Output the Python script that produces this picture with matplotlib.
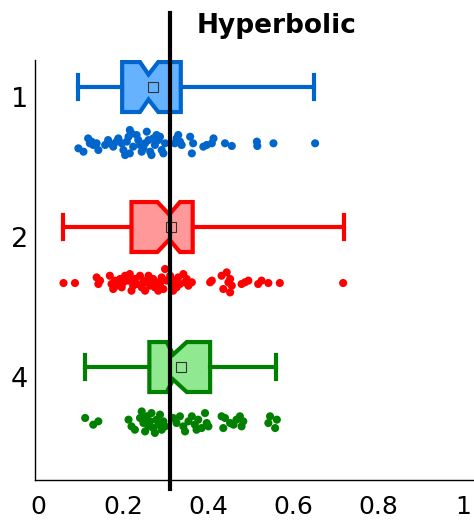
import matplotlib
matplotlib.use("Agg")
import matplotlib.pyplot as plt

# ---------------- data ----------------
categories = ["1", "2", "4"]
title_text = "Hyperbolic"
ref_line_x = 0.311
xticks = [0, 0.2, 0.4, 0.6, 0.8, 1]
xtick_labels = ["0", "0.2", "0.4", "0.6", "0.8", "1"]

# box statistics
whislo = [0.095, 0.060, 0.110]
q1 = [0.198, 0.220, 0.262]
med = [0.260, 0.309, 0.318]
q3 = [0.336, 0.364, 0.405]
whishi = [0.649, 0.720, 0.560]
means = [0.270, 0.312, 0.336]
cilo = [0.240, 0.281, 0.303]
cihi = [0.283, 0.334, 0.350]

# individual points (values and vertical jitter)
vals1 = [0.095, 0.107, 0.118, 0.126, 0.122, 0.130, 0.138, 0.142, 0.158, 0.165,
         0.169, 0.177, 0.185, 0.189, 0.197, 0.201, 0.209, 0.213, 0.216, 0.220,
         0.224, 0.205, 0.216, 0.232, 0.236, 0.240, 0.248, 0.244, 0.256, 0.260,
         0.264, 0.267, 0.252, 0.271, 0.275, 0.279, 0.283, 0.287, 0.291, 0.295,
         0.299, 0.322, 0.326, 0.330, 0.334, 0.338, 0.358, 0.362, 0.365, 0.389,
         0.397, 0.409, 0.413, 0.440, 0.456, 0.515, 0.516, 0.554, 0.652]
jit1 = [0.038, 0.062, -0.033, -0.010, 0.002, 0.014, 0.002, 0.050, 0.014, -0.021,
        0.002, 0.026, -0.010, -0.033, 0.002, 0.050, -0.010, -0.045, -0.093, -0.069,
        0.026, 0.086, 0.074, -0.057, -0.021, 0.014, 0.038, 0.062, -0.081, -0.021,
        0.062, 0.086, 0.002, -0.033, 0.014, -0.057, -0.021, -0.045, 0.050, 0.074,
        0.002, 0.002, -0.033, -0.057, -0.010, 0.014, -0.045, 0.074, 0.002, 0.026,
        0.014, 0.002, -0.033, 0.002, 0.021, -0.010, 0.021, 0.002, 0.002]

vals2 = [0.060, 0.087, 0.138, 0.142, 0.146, 0.169, 0.173, 0.177, 0.181, 0.185,
         0.193, 0.197, 0.201, 0.205, 0.213, 0.216, 0.220, 0.224, 0.228, 0.232,
         0.240, 0.244, 0.248, 0.252, 0.256, 0.260, 0.264, 0.271, 0.275, 0.279,
         0.283, 0.287, 0.291, 0.295, 0.299, 0.303, 0.311, 0.315, 0.318, 0.322,
         0.326, 0.330, 0.334, 0.342, 0.346, 0.350, 0.354, 0.362, 0.405, 0.409,
         0.432, 0.436, 0.444, 0.448, 0.452, 0.456, 0.452, 0.479, 0.487, 0.495,
         0.518, 0.526, 0.542, 0.569, 0.718]
jit2 = [0.000, 0.000, -0.040, 0.007, -0.017, -0.052, 0.007, 0.043, -0.017, 0.019,
        -0.029, 0.031, -0.005, -0.052, -0.017, -0.064, 0.055, 0.019, -0.029, 0.007,
        -0.052, 0.031, -0.017, 0.055, -0.005, -0.052, 0.019, -0.029, 0.031, -0.005,
        0.055, 0.007, -0.040, 0.043, -0.100, -0.017, -0.052, 0.019, 0.055, -0.017,
        0.031, -0.040, 0.007, -0.064, -0.005, -0.029, 0.019, -0.005, -0.005, -0.017,
        -0.052, 0.043, -0.076, -0.005, -0.029, 0.019, 0.067, 0.007, -0.005, -0.017,
        0.007, -0.017, 0.000, 0.000, 0.000]

vals3 = [0.111, 0.130, 0.142, 0.213, 0.220, 0.228, 0.240, 0.244, 0.248, 0.252,
         0.256, 0.260, 0.264, 0.267, 0.271, 0.275, 0.279, 0.283, 0.287, 0.291,
         0.295, 0.299, 0.318, 0.326, 0.334, 0.342, 0.346, 0.354, 0.362, 0.369,
         0.373, 0.377, 0.385, 0.393, 0.397, 0.401, 0.432, 0.436, 0.440, 0.452,
         0.460, 0.467, 0.475, 0.479, 0.483, 0.542, 0.546, 0.558, 0.562]
jit3 = [-0.036, 0.012, -0.012, -0.024, 0.024, 0.048, -0.036, -0.083, 0.000, 0.060,
        -0.048, 0.024, -0.012, -0.071, 0.036, 0.071, -0.024, 0.012, -0.060, 0.048,
        -0.012, 0.024, -0.036, 0.000, -0.048, 0.024, 0.060, -0.012, -0.048, 0.012,
        0.048, -0.024, 0.036, -0.071, 0.000, 0.024, -0.048, 0.036, -0.036, 0.000,
        0.012, -0.024, -0.048, 0.024, -0.012, 0.000, -0.048, 0.036, -0.024]

edge_colors = ["#0066CC", "#FF0000", "#008000"]
fill_colors = ["#66B2FF", "#FF9999", "#90E890"]

# ---------------- figure ----------------
fig = plt.figure(figsize=(4.74, 5.21), dpi=100)
ax = fig.add_axes([35 / 474, 41 / 521, 439 / 474, 420 / 521])

positions = [0, 1, 2]
point_offset = 0.40

stats = []
for i in range(3):
    stats.append(dict(label=categories[i], whislo=whislo[i], q1=q1[i], med=med[i],
                      q3=q3[i], whishi=whishi[i], mean=means[i],
                      cilo=cilo[i], cihi=cihi[i], fliers=[]))

for i in range(3):
    ax.bxp([stats[i]], positions=[positions[i]], widths=0.357,
           orientation="horizontal", shownotches=True, showmeans=True,
           patch_artist=True, showfliers=False,
           boxprops=dict(facecolor=fill_colors[i], edgecolor=edge_colors[i],
                         linewidth=3.0),
           whiskerprops=dict(color=edge_colors[i], linewidth=3.0),
           capprops=dict(color=edge_colors[i], linewidth=3.0),
           medianprops=dict(linewidth=0),
           meanprops=dict(marker="s", markerfacecolor="none",
                          markeredgecolor="#333333", markersize=7.5,
                          markeredgewidth=0.8),
           capwidths=0.171, zorder=3)

all_vals = [vals1, vals2, vals3]
all_jit = [jit1, jit2, jit3]
for i in range(3):
    ys = [positions[i] + point_offset + j for j in all_jit[i]]
    ax.scatter(all_vals[i], ys, s=34, color=edge_colors[i], edgecolors="none",
               zorder=3)

ax.set_xlim(-0.00706, 1.0259)
ax.set_ylim(2.807, -0.193)

ax.set_xticks(xticks)
ax.set_xticklabels(xtick_labels)
ax.set_yticks([p + 0.071 for p in positions])
ax.set_yticklabels(categories)
ax.tick_params(axis="x", length=0, pad=11, labelsize=18)
ax.tick_params(axis="y", length=0, pad=5, labelsize=19.5)

for s in ["top", "right"]:
    ax.spines[s].set_visible(False)
for s in ["left", "bottom"]:
    ax.spines[s].set_linewidth(1.0)

ax.axvline(ref_line_x, ymin=-0.021, ymax=1.112, color="black", linewidth=3,
           clip_on=False, zorder=5)

fig.text(277 / 474, 1 - 33 / 521, title_text, ha="center", va="baseline",
         fontsize=19, fontweight="bold")

fig.savefig("out.png", dpi=100)
